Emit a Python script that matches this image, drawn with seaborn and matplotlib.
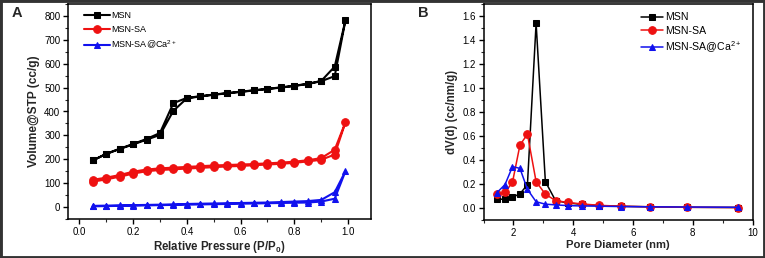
import numpy as np
import pandas as pd
import seaborn as sns
import matplotlib
matplotlib.use("Agg")
import matplotlib.pyplot as plt
from matplotlib.ticker import MultipleLocator
from matplotlib.patches import Rectangle

# ---- Data (panel A: N2 isotherms) ----
pressure = [0.05, 0.10, 0.15, 0.20, 0.25, 0.30, 0.35, 0.40, 0.45, 0.50,
            0.55, 0.60, 0.65, 0.70, 0.75, 0.80, 0.85, 0.90, 0.95, 0.99]
msn_ads = [195, 222, 243, 262, 282, 302, 403, 455, 463, 470,
           476, 482, 488, 494, 500, 507, 515, 527, 548, 782]
msn_des = [195, 223, 244, 264, 285, 310, 435, 457, 464, 471,
           477, 483, 489, 495, 501, 508, 516, 528, 588]
sa_ads = [106, 116, 127, 140, 150, 155, 158, 161, 164, 167,
          170, 172, 175, 178, 181, 185, 191, 198, 220, 355]
sa_des = [114, 123, 134, 148, 157, 162, 165, 168, 171, 174,
          176, 178, 180, 183, 186, 190, 196, 205, 240]
ca_ads = [3, 4, 5, 6, 7, 8, 9, 10, 11, 12,
          13, 14, 15, 16, 17, 18, 19, 23, 35, 150]
ca_des = [5, 6, 7, 8, 9, 10, 11, 13, 14, 15,
          16, 17, 18, 19, 21, 23, 25, 30, 62]

# ---- Data (panel B: pore size distribution) ----
diameter = [1.45, 1.72, 1.97, 2.22, 2.47, 2.76, 3.07, 3.41, 3.82, 4.30,
            4.88, 5.60, 6.57, 7.80, 9.53]
msn_psd = [0.075, 0.072, 0.090, 0.118, 0.195, 1.54, 0.22, 0.062, 0.042, 0.030,
           0.020, 0.014, 0.010, 0.006, 0.004]
sa_psd = [0.115, 0.130, 0.215, 0.525, 0.615, 0.220, 0.115, 0.062, 0.046, 0.034,
          0.022, 0.015, 0.010, 0.006, 0.004]
ca_psd = [0.128, 0.195, 0.345, 0.330, 0.155, 0.052, 0.032, 0.026, 0.020, 0.017,
          0.015, 0.012, 0.010, 0.008, 0.006]

labels = ["MSN", "MSN-SA", "MSN-SA@Ca$^{2+}$"]
colors = ["#000000", "#ee1111", "#1111ee"]
markers = ["s", "o", "^"]

sns.set_style("ticks")
plt.rcParams["font.family"] = ["Liberation Sans", "DejaVu Sans"]
plt.rcParams["mathtext.fontset"] = "custom"
plt.rcParams["mathtext.rm"] = "Liberation Sans"
plt.rcParams["mathtext.bf"] = "Liberation Sans:bold"

W, H = 765, 258
fig = plt.figure(figsize=(W / 100, H / 100), dpi=100)
fig.patch.set_facecolor("white")


def ax_rect(l, r, t, b):
    return [l / W, 1 - b / H, (r - l) / W, (b - t) / H]


axA = fig.add_axes(ax_rect(68, 371, 4, 219))
axB = fig.add_axes(ax_rect(483.5, 752.5, 4, 220))


def loop(ads, des):
    x = list(pressure) + list(pressure[:-1])[::-1]
    y = list(ads) + list(des)[::-1]
    return pd.DataFrame({"x": x, "y": y})


for ads, des, lab, c, m in zip([msn_ads, sa_ads, ca_ads], [msn_des, sa_des, ca_des],
                               labels, colors, markers):
    df = loop(ads, des)
    sns.lineplot(data=df, x="x", y="y", sort=False, estimator=None, ax=axA,
                 color=c, marker=m, markersize=5 if m != "o" else 5.5,
                 markeredgecolor=c, linewidth=1.5, label=lab)

for ys, lab, c, m in zip([msn_psd, sa_psd, ca_psd], labels, colors, markers):
    df = pd.DataFrame({"x": diameter, "y": ys})
    sns.lineplot(data=df, x="x", y="y", sort=False, estimator=None, ax=axB,
                 color=c, marker=m, markersize=5 if m != "o" else 5.5,
                 markeredgecolor=c, linewidth=1.1, label=lab)

axA.set_xlim(-0.042, 1.085)
axA.set_ylim(-50, 850)
axA.xaxis.set_major_locator(MultipleLocator(0.2))
axA.xaxis.set_minor_locator(MultipleLocator(0.1))
axA.yaxis.set_major_locator(MultipleLocator(100))
axA.yaxis.set_minor_locator(MultipleLocator(50))
axA.set_xticks(np.arange(0, 1.01, 0.2))
axA.set_xticklabels(["0.0", "0.2", "0.4", "0.6", "0.8", "1.0"])
axA.set_xlabel("Relative Pressure (P/P$_\\mathbf{0}$)", fontsize=8.3, fontweight="bold", labelpad=2)
axA.set_ylabel("Volume@STP (cc/g)", fontsize=8.6, fontweight="bold", labelpad=3)

axB.set_xlim(1.0, 10.0)
axB.set_ylim(-0.1, 1.7)
axB.xaxis.set_major_locator(MultipleLocator(2))
axB.xaxis.set_minor_locator(MultipleLocator(1))
axB.yaxis.set_major_locator(MultipleLocator(0.2))
axB.yaxis.set_minor_locator(MultipleLocator(0.1))
axB.set_yticks(np.arange(0, 1.61, 0.2))
axB.set_yticklabels([f"{v:.1f}" for v in np.arange(0, 1.61, 0.2)])
axB.set_xlabel("Pore Diameter (nm)", fontsize=8.1, fontweight="bold", labelpad=2)
axB.set_ylabel("dV(d) (cc/nm/g)", fontsize=8.3, fontweight="bold", labelpad=3)

for ax in (axA, axB):
    for s in ax.spines.values():
        s.set_visible(True)
        s.set_linewidth(1.1)
        s.set_color("black")
    ax.tick_params(which="major", direction="out", length=3.5, width=1,
                   labelsize=7, pad=2, colors="black")
    ax.tick_params(which="minor", direction="out", length=2, width=0.8)

legA = axA.legend(loc="upper left", frameon=False, fontsize=6.5,
                  handlelength=2.8, handletextpad=0.2, labelspacing=0.55,
                  borderaxespad=0.4, bbox_to_anchor=(0.03, 1.0))
legB = axB.legend(loc="upper right", frameon=False, fontsize=7.6,
                  handlelength=2.1, handletextpad=0.2, labelspacing=0.32,
                  borderaxespad=0.4, bbox_to_anchor=(0.99, 1.0))
for leg in (legA, legB):
    for t in leg.get_texts():
        t.set_color("black")

fig.text(12 / W, 1 - 17 / H, "A", fontsize=10.5, fontweight="bold", ha="left", va="baseline")
fig.text(418 / W, 1 - 17 / H, "B", fontsize=10.5, fontweight="bold", ha="left", va="baseline")

fig.patches.append(Rectangle((0, 0), 1, 1, transform=fig.transFigure, fill=False,
                             edgecolor="#333333", linewidth=3.5, zorder=10))

fig.savefig("out.png", dpi=100)
